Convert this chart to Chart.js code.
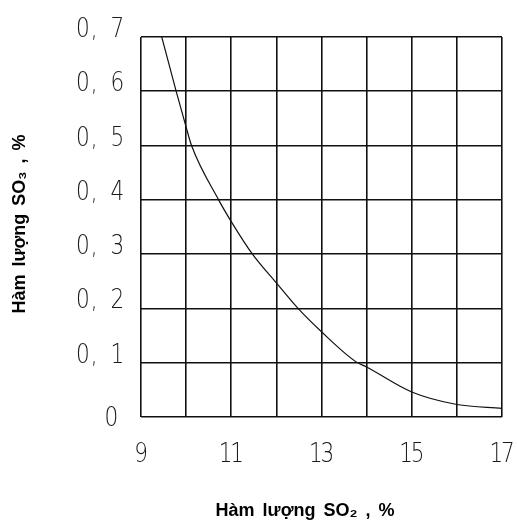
<!DOCTYPE html>
<html><head><meta charset="utf-8">
<script src="https://cdn.jsdelivr.net/npm/chart.js@4/dist/chart.umd.min.js"></script>
<style>html,body{margin:0;padding:0;background:#fff}#wrap{width:517px;height:524px;position:relative}</style>
</head><body>
<div id="wrap"><canvas id="c"></canvas></div>
<script>
// SO2 content in the gas (%) and the matching SO3 content (%)
const so2 = [9.46, 9.78, 10.0, 10.12, 10.72, 11.0, 11.47, 12.0, 12.48, 13.0, 13.76, 14.0, 15.0, 16.0, 17.0];
const so3 = [0.70, 0.60, 0.534, 0.50, 0.40, 0.36, 0.30, 0.247, 0.20, 0.157, 0.102, 0.092, 0.046, 0.023, 0.016];

// axis tick labels
const xTickValues = [9, 11, 13, 15, 17];
const xTickLabels = ['9', '11', '13', '15', '17'];
const yTickValues = [0, 0.1, 0.2, 0.3, 0.4, 0.5, 0.6, 0.7];
const yTickLabels = ['0', '0, 1', '0, 2', '0, 3', '0, 4', '0, 5', '0, 6', '0, 7'];

const xTitle = 'Hàm lượng SO₂ , %';
const yTitle = 'Hàm lượng SO₃ , %';

const points = so2.map((x, i) => ({ x, y: so3[i] }));

// draw a label as evenly spaced narrow characters (plotter-style lettering)
const CELL = 11.5, SX = 0.8;
function drawCells(ctx, text, rightX, baseY) {
  const chars = [...text];
  chars.forEach((ch, i) => {
    const cx = rightX - (chars.length - i - 0.5) * CELL;
    ctx.save();
    ctx.translate(cx, baseY);
    ctx.scale(SX, 1);
    ctx.textAlign = 'center';
    ctx.textBaseline = 'alphabetic';
    ctx.fillText(ch, 0, 0);
    ctx.restore();
  });
}

const labelsPlugin = {
  id: 'plotterLabels',
  afterDraw(chart) {
    const { ctx, scales: { x, y }, chartArea } = chart;
    ctx.save();
    ctx.fillStyle = '#1a1a1a';
    ctx.font = '200 27px "DejaVu Sans"';
    yTickValues.forEach((v, i) => {
      const py = y.getPixelForValue(v);
      const txt = yTickLabels[i];
      if (txt.length === 1) drawCells(ctx, txt, chartArea.left - 24, py + 9);
      else drawCells(ctx, txt, chartArea.left - 18, py);
    });
    xTickValues.forEach((v, i) => {
      const px = x.getPixelForValue(v);
      const txt = xTickLabels[i];
      drawCells(ctx, txt, px + [...txt].length * CELL / 2, chartArea.bottom + 45);
    });

    // axis titles
    ctx.fillStyle = '#000';
    ctx.font = 'bold 18px "Liberation Sans", Arial, sans-serif';
    ctx.textAlign = 'center';
    ctx.textBaseline = 'middle';
    if ('wordSpacing' in ctx) ctx.wordSpacing = '3px';
    ctx.fillText(xTitle, 305, 511);
    ctx.save();
    ctx.translate(20, 224);
    ctx.rotate(-Math.PI / 2);
    ctx.fillText(yTitle, 0, 0);
    ctx.restore();
    ctx.restore();
  }
};

new Chart(document.getElementById('c'), {
  type: 'line',
  data: {
    datasets: [{
      data: points,
      borderColor: '#111',
      borderWidth: 1.2,
      pointRadius: 0,
      fill: false,
      cubicInterpolationMode: 'monotone'
    }]
  },
  options: {
    responsive: true,
    maintainAspectRatio: false,
    animation: false,
    layout: { padding: { left: 141, right: 15, top: 37, bottom: 107 } },
    plugins: { legend: { display: false }, tooltip: { enabled: false } },
    scales: {
      x: {
        type: 'linear', min: 9, max: 17,
        ticks: { display: false, stepSize: 1 },
        grid: { color: '#111', lineWidth: 1.6, drawTicks: false },
        border: { display: false }
      },
      y: {
        type: 'linear', min: 0, max: 0.7,
        ticks: { display: false, stepSize: 0.1 },
        grid: { color: '#111', lineWidth: 1.6, drawTicks: false },
        border: { display: false }
      }
    }
  },
  plugins: [labelsPlugin]
});
</script>
</body></html>
